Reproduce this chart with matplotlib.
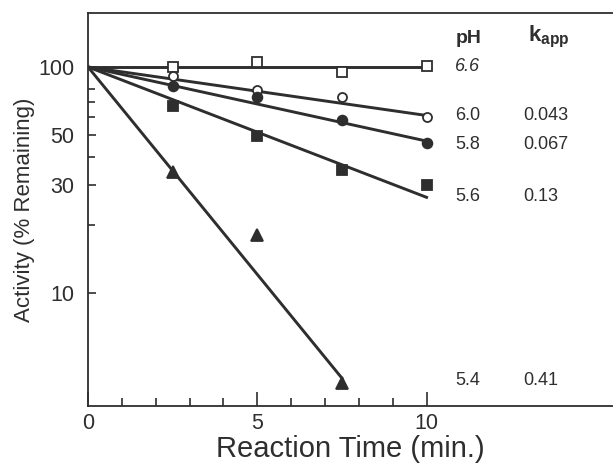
import numpy as np
import matplotlib
matplotlib.use('Agg')
import matplotlib.pyplot as plt
from matplotlib.ticker import FixedLocator, NullFormatter

plt.rcParams['font.family'] = ['Liberation Sans', 'DejaVu Sans']
plt.rcParams['mathtext.fontset'] = 'custom'
plt.rcParams['mathtext.rm'] = 'Liberation Sans'
plt.rcParams['mathtext.bf'] = 'Liberation Sans:bold'

# ── Datos ────────────────────────────────────────────────────────────────
t_pts = [2.5, 5.0, 7.5, 10.0]

act_66 = [100, 105, 95, 101]     # cuadrado abierto
act_60 = [91, 79, 74, 60]        # círculo abierto
act_58 = [82, 74, 58, 46]        # círculo lleno
act_56 = [67, 49.5, 35, 30]      # cuadrado lleno
act_54 = [34.3, 18, 4.0]         # triángulo lleno

# rectas de ajuste: (t_final, actividad_final), todas parten de (0, 100)
fit_66 = (10.0, 100)
fit_60 = (10.0, 61)
fit_58 = (10.0, 47)
fit_56 = (10.0, 26.5)
fit_54 = (7.5, 4.2)

ph_labels = ['6.6', '6.0', '5.8', '5.6', '5.4']
k_labels = ['', '0.043', '0.067', '0.13', '0.41']
label_y = [100, 60.7, 45.5, 26.6, 4.1]

INK = '#2e2e2e'

fig = plt.figure(figsize=(6.13, 4.70), dpi=100)
ax = fig.add_axes([0.1436, 0.136, 0.856, 0.836])
ax.set_yscale('log')
ax.set_xlim(0, 15.5)
ax.set_ylim(3.16, 173)

series = [
    (act_66, fit_66, dict(marker='s', mfc='white', ms=6.5)),
    (act_60, fit_60, dict(marker='o', mfc='white', ms=6.5)),
    (act_58, fit_58, dict(marker='o', mfc=INK, ms=7)),
    (act_56, fit_56, dict(marker='s', mfc=INK, ms=6.5)),
    (act_54, fit_54, dict(marker='^', mfc=INK, ms=8)),
]
for vals, fit, mk in series:
    ax.plot([0, fit[0]], [100, fit[1]], color=INK, lw=2.1, zorder=2)
    ax.plot(t_pts[:len(vals)], vals, ls='none', mec=INK, mew=1.3,
            zorder=3, **mk)

# columnas pH / k_app
for ph, k, y in zip(ph_labels, k_labels, label_y):
    style = 'italic' if ph == '6.6' else 'normal'
    ax.text(10.85, y, ph, fontsize=13, color=INK, va='center',
            style=style)
    if k:
        ax.text(12.85, y, k, fontsize=13, color=INK, va='center')
ax.text(10.85, 133, 'pH', fontsize=14, fontweight='bold', color=INK,
        va='center')
ax.text(13.0, 136, r'$\mathbf{k_{app}}$', fontsize=16, color=INK,
        va='center')

# ejes
ax.xaxis.set_major_locator(FixedLocator([0, 5, 10]))
ax.xaxis.set_minor_locator(FixedLocator([1, 2, 3, 4, 6, 7, 8, 9]))
ax.set_xticklabels(['0', '5', '10'])
ax.yaxis.set_major_locator(FixedLocator([10, 30, 50, 100]))
ax.yaxis.set_minor_locator(FixedLocator([20, 40, 60, 70, 80]))
ax.yaxis.set_minor_formatter(NullFormatter())
ax.set_yticklabels(['10', '30', '50', '100'])

ax.tick_params(which='both', direction='in', colors=INK, labelsize=15.5)
ax.tick_params(axis='x', which='major', length=10, width=1.2, pad=5)
ax.tick_params(axis='x', which='minor', length=6, width=1.2)
ax.tick_params(axis='y', which='major', length=6, width=1.2, pad=10)
ax.tick_params(axis='y', which='minor', length=5, width=1.2)

for side in ['left', 'bottom', 'top']:
    ax.spines[side].set_color(INK)
    ax.spines[side].set_linewidth(1.3)
ax.spines['right'].set_visible(False)

ax.set_xlabel('Reaction Time (min.)', fontsize=21, color=INK, labelpad=1)
ax.set_ylabel('Activity (% Remaining)', fontsize=16, color=INK,
              labelpad=2)

fig.savefig('out.png', dpi=100)
